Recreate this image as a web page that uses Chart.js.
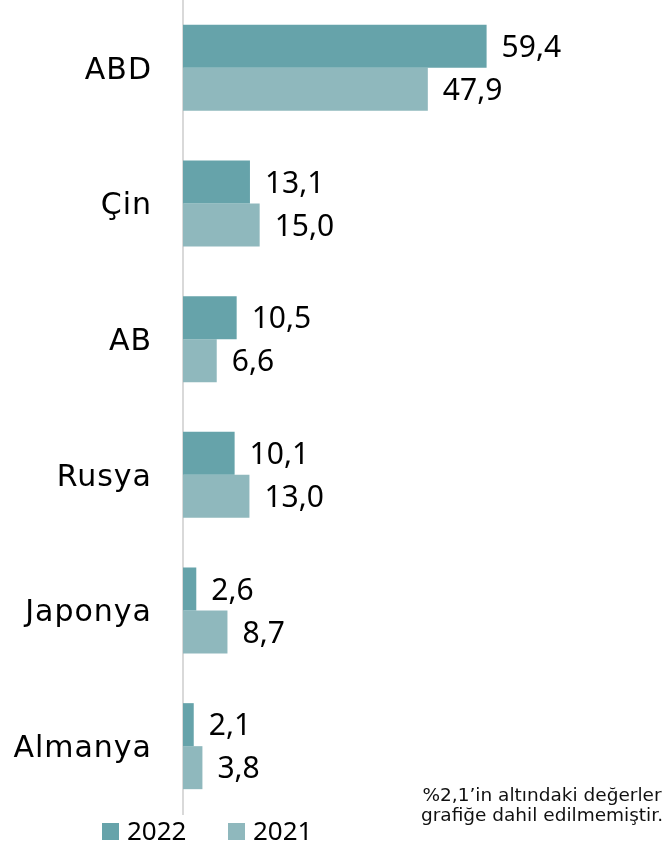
<!DOCTYPE html>
<html>
<head>
<meta charset="utf-8">
<script src="https://cdn.jsdelivr.net/npm/chart.js@4.4.0/dist/chart.umd.min.js"></script>
<style>
html,body{margin:0;padding:0;background:#fff;}
#wrap{width:669px;height:846px;position:relative;}
</style>
</head>
<body>
<div id="wrap"><canvas id="c"></canvas></div>
<script>
const categories = ["ABD", "Çin", "AB", "Rusya", "Japonya", "Almanya"];
const seriesNames = ["2022", "2021"];
const values2022 = [59.4, 13.1, 10.5, 10.1, 2.6, 2.1];
const values2021 = [47.9, 15.0, 6.6, 13.0, 8.7, 3.8];
const colors = ["#66a3aa", "#8fb8bd"];
const noteLines = ["%2,1’in altındaki değerler", "grafiğe dahil edilmemiştir."];

function fmt(v){ return v.toFixed(1).replace('.', ','); }

const labelPlugin = {
  id: 'extras',
  beforeDraw(chart){
    chart.ctx.letterSpacing = '1px';
  },
  afterDatasetsDraw(chart){
    const ctx = chart.ctx;
    ctx.save();
    ctx.letterSpacing = '0px';
    ctx.fillStyle = '#000';
    ctx.font = '30px "Noto Sans"';
    ctx.textAlign = 'left';
    ctx.textBaseline = 'middle';
    chart.data.datasets.forEach((ds, di) => {
      const meta = chart.getDatasetMeta(di);
      meta.data.forEach((bar, i) => {
        ctx.fillText(fmt(ds.data[i]), bar.x + 15, bar.y + 2);
      });
    });
    // legend
    const lx = [102, 228];
    ctx.font = '26px "Noto Sans"';
    ctx.textBaseline = 'alphabetic';
    chart.data.datasets.forEach((ds, di) => {
      ctx.fillStyle = ds.backgroundColor;
      ctx.fillRect(lx[di], 823, 17, 17);
      ctx.fillStyle = '#000';
      ctx.fillText(ds.label, lx[di] + 25, 840);
    });
    // note
    ctx.font = '18.5px "DejaVu Sans"';
    ctx.textAlign = 'center';
    ctx.fillStyle = '#111';
    ctx.fillText(noteLines[0], 542, 801);
    ctx.fillText(noteLines[1], 542, 821);
    ctx.restore();
  }
};

new Chart(document.getElementById('c'), {
  type: 'bar',
  data: {
    labels: categories,
    datasets: [
      { label: seriesNames[0], data: values2022, backgroundColor: colors[0] },
      { label: seriesNames[1], data: values2021, backgroundColor: colors[1] }
    ]
  },
  options: {
    indexAxis: 'y',
    responsive: true,
    maintainAspectRatio: false,
    animation: false,
    categoryPercentage: 0.634,
    barPercentage: 1.0,
    layout: { padding: { top: 0, bottom: 32, left: 0, right: 26 } },
    plugins: { legend: { display: false }, tooltip: { enabled: false } },
    scales: {
      x: { min: 0, max: 90, display: false },
      y: {
        afterFit(s){ s.width = 183; s.paddingTop = 0; s.paddingBottom = 0; },
        grid: { display: false, drawTicks: false },
        border: { display: true, color: '#d9d9d9', width: 2 },
        ticks: { color: '#000', padding: 31, labelOffset: 3, font: { family: '"DejaVu Sans"', size: 30 } }
      }
    }
  },
  plugins: [labelPlugin]
});
</script>
</body>
</html>
